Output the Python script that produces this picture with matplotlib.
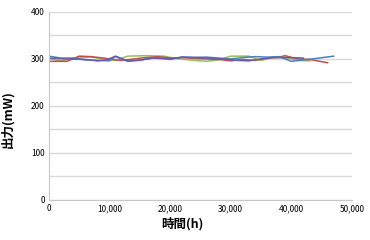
import matplotlib
matplotlib.use('Agg')
import matplotlib.pyplot as plt
from matplotlib.ticker import FuncFormatter, MultipleLocator

plt.rcParams['font.family'] = ['Noto Sans CJK JP', 'DejaVu Sans']

# データ
x_blue = [0, 2000, 4000, 6000, 8000, 10000, 11000, 13000, 15000, 18000, 20000, 22000,
          24000, 26000, 28000, 30000, 32000, 34000, 36000, 38000, 40000, 42000, 44000, 47000]
y_blue = [306, 302, 302, 298, 297, 296, 305, 295, 298, 303, 299, 304,
          303, 304, 302, 300, 303, 305, 304, 305, 295, 298, 301, 306]

x_red = [0, 3000, 5000, 7000, 9000, 11000, 12000, 14000, 16000, 18000, 20000, 22000,
         24000, 26000, 28000, 30000, 32000, 34000, 36000, 38000, 39000, 41000, 43000, 46000]
y_red = [295, 295, 306, 305, 302, 298, 297, 300, 303, 305, 302, 303,
         301, 300, 299, 296, 299, 297, 302, 304, 307, 300, 299, 292]

x_green = [0, 2000, 4000, 7000, 9000, 11000, 13000, 16000, 19000, 21000, 24000, 26000,
           28000, 30000, 33000, 35000, 37000, 39000, 41000, 43000]
y_green = [301, 296, 302, 304, 300, 297, 306, 307, 306, 301, 297, 295,
           298, 306, 306, 297, 303, 303, 297, 296]

x_purple = [0, 3000, 6000, 8000, 9500, 11000, 13000, 15000, 17000, 20000, 22000, 25000,
            27000, 29000, 31000, 33000, 35000, 37000, 40000, 42000]
y_purple = [302, 300, 299, 296, 298, 306, 296, 297, 302, 300, 304, 303,
            301, 300, 297, 296, 300, 303, 303, 302]

fig = plt.figure(figsize=(3.7, 2.4), dpi=100)
ax = fig.add_axes([0.132, 0.167, 0.819, 0.783])

ax.plot(x_green, y_green, color='#9bbb59', lw=1.1)
ax.plot(x_red, y_red, color='#c0504d', lw=1.1)
ax.plot(x_blue, y_blue, color='#4f81bd', lw=1.1)
ax.plot(x_purple, y_purple, color='#6a5aa8', lw=1.1)

ax.set_xlim(0, 50000)
ax.set_ylim(0, 400)
ax.xaxis.set_major_locator(MultipleLocator(10000))
ax.yaxis.set_major_locator(MultipleLocator(100))
ax.yaxis.set_minor_locator(MultipleLocator(50))
ax.xaxis.set_major_formatter(FuncFormatter(lambda v, p: f'{int(v):,}'))

ax.grid(axis='y', which='both', color='#d9d9d9', lw=1)
ax.set_axisbelow(True)
for s in ['top', 'right']:
    ax.spines[s].set_visible(False)
for s in ['left', 'bottom']:
    ax.spines[s].set_color('#c8c8c8')
ax.tick_params(axis='both', which='both', length=0, labelsize=6, pad=3)

ax.set_xlabel('時間(h)', fontsize=9, fontweight='bold')
ax.set_ylabel('出力(mW)', fontsize=9, fontweight='bold')
ax.xaxis.set_label_coords(0.44, -0.09)
ax.yaxis.set_label_coords(-0.115, 0.43)

plt.savefig('out.png', dpi=100)
